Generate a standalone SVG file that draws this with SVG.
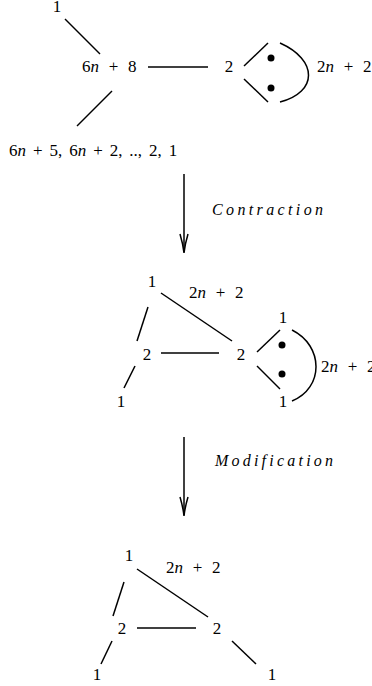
<svg xmlns="http://www.w3.org/2000/svg" width="372" height="686" viewBox="0 0 372 686">
<style>
text{font-family:"Liberation Serif","Times New Roman",serif;font-size:17px;fill:#000}
.m{text-anchor:middle}
.w{word-spacing:5.5px}
.i{font-style:italic}
.lab{font-style:italic;font-size:16px}
.e{stroke:#000;stroke-width:1.5;fill:none}
.dot{fill:#000}
</style>
<rect width="372" height="686" fill="#fff"/>
<g id="connectors">
<line class="e" x1="65" y1="19" x2="100" y2="54"/>
<line class="e" x1="148" y1="67" x2="208" y2="67"/>
<line class="e" x1="112" y1="91" x2="77" y2="126"/>
<line class="e" x1="244" y1="66" x2="268" y2="43"/>
<line class="e" x1="244" y1="79" x2="268" y2="102"/>
<path class="e" d="M280,43 C318,60 318,92 280,102"/>
<line class="e" x1="184" y1="174" x2="184" y2="252"/>
<path class="e" d="M180,234 Q183,244 184,253 Q185,244 188,234"/>
<line class="e" x1="161" y1="293" x2="232" y2="341"/>
<line class="e" x1="148" y1="307" x2="137" y2="341"/>
<line class="e" x1="161" y1="353" x2="219" y2="353"/>
<line class="e" x1="135" y1="366" x2="124" y2="388"/>
<line class="e" x1="257" y1="352" x2="280" y2="330"/>
<line class="e" x1="257" y1="366" x2="280" y2="389"/>
<path class="e" d="M292,330 C324,346 324,388 292,401"/>
<line class="e" x1="184" y1="437" x2="184" y2="515"/>
<path class="e" d="M180,497 Q183,507 184,516 Q185,507 188,497"/>
<line class="e" x1="137" y1="569" x2="208" y2="617"/>
<line class="e" x1="124" y1="582" x2="113" y2="616"/>
<line class="e" x1="137" y1="628" x2="196" y2="628"/>
<line class="e" x1="112" y1="641" x2="101" y2="664"/>
<line class="e" x1="232" y1="641" x2="256" y2="664"/>
</g>
<g id="top">
<g id="t1"><text class="m" x="57" y="12">1</text></g>
<g id="t6n8"><text class="w" x="82" y="72">6<tspan class="i">n</tspan> + 8</text></g>
<g id="t2"><text class="m" x="229" y="72">2</text></g>
<g id="tloop"><circle class="dot" cx="271" cy="58" r="3.5"/><circle class="dot" cx="271" cy="88" r="3.5"/></g>
<g id="t2n2"><text class="w" x="317" y="72">2<tspan class="i">n</tspan> + 2</text></g>
<g id="tlist"><text x="9" y="156" style="word-spacing:2.7px">6<tspan class="i">n</tspan> + 5, 6<tspan class="i">n</tspan> + 2, .., 2, 1</text></g>
</g>
<g id="contraction"><text class="lab" x="212" y="215" textLength="111" lengthAdjust="spacing">Contraction</text></g>
<g id="middle">
<g id="m1"><text class="m" x="152" y="287">1</text></g>
<g id="m2n2"><text class="w" x="189" y="298">2<tspan class="i">n</tspan> + 2</text></g>
<g id="m2a"><text class="m" x="147" y="360">2</text></g>
<g id="m2b"><text class="m" x="241" y="360">2</text></g>
<g id="m1b"><text class="m" x="121" y="407">1</text></g>
<g id="m1c"><text class="m" x="283" y="323">1</text></g>
<g id="m1d"><text class="m" x="283" y="407">1</text></g>
<g id="mloop"><circle class="dot" cx="282" cy="345" r="3.5"/><circle class="dot" cx="282" cy="374" r="3.5"/></g>
<g id="m2n2b"><text class="w" x="321" y="372">2<tspan class="i">n</tspan> + 2</text></g>
</g>
<g id="modification"><text class="lab" x="215" y="466" textLength="118" lengthAdjust="spacing">Modification</text></g>
<g id="bottom">
<g id="b1"><text class="m" x="129" y="561">1</text></g>
<g id="b2n2"><text class="w" x="166" y="573">2<tspan class="i">n</tspan> + 2</text></g>
<g id="b2a"><text class="m" x="122" y="634">2</text></g>
<g id="b2b"><text class="m" x="217" y="634">2</text></g>
<g id="b1a"><text class="m" x="97" y="680">1</text></g>
<g id="b1b"><text class="m" x="272" y="680">1</text></g>
</g>
</svg>
